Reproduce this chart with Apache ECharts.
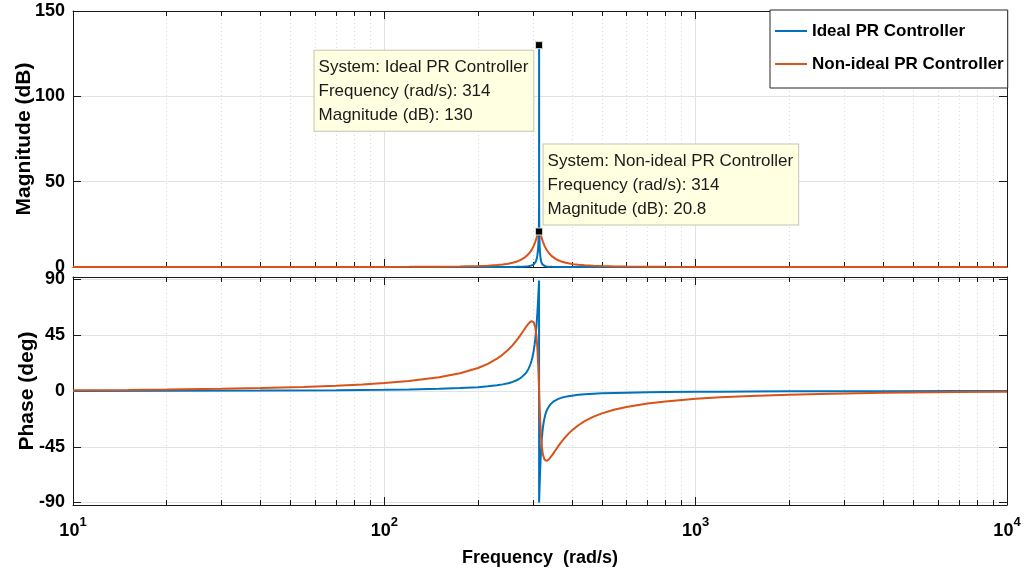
<!DOCTYPE html>
<html><head><meta charset="utf-8">
<script src="https://cdn.jsdelivr.net/npm/echarts@6/dist/echarts.min.js"></script>
<style>html,body{margin:0;padding:0;background:#fff}#c{width:1027px;height:575px}</style>
</head><body><div id="c"></div>
<script>
// ---- data ----
const seriesNames = ['Ideal PR Controller', 'Non-ideal PR Controller'];

const idealMagFreq = [10,20,40,70,100,120,150,175,200,215,230,240,250,258,265,270,275,279,283,287,290,292.5,295,297,299,302,304,305,306.5,308,309,310,311,312,313,313.7,314.05,314.16,314.3,314.6,315.3,316,317.5,319,320,321.5,323,325,327,329.5,332,335,338,341.5,345,350,355,362,370,380,390,405,420,440,470,500,550,600,700,800,1000,1200,1500,2000,2500,4000,7000,10000];
const idealMag = [0,0,0.0003,0.001,0.0014,0.0023,0.0043,0.0073,0.013,0.0186,0.028,0.0377,0.053,0.0714,0.096,0.1205,0.155,0.1946,0.25,0.3306,0.42,0.5188,0.70,0.8111,1.02,1.51,2.041,2.41,3.147,4.24,5.27,6.68,8.662,11.65,16.85,24.8,37.3,130,31.0,21.2,13.08,9.24,5.14,3.188,2.42,1.687,1.23,0.8636,0.64,0.4587,0.35,0.2585,0.20,0.1567,0.124,0.0929,0.073,0.0541,0.041,0.0299,0.023,0.0167,0.013,0.0093,0.006,0.0047,0.003,0.0023,0.0014,0.001,0.0005,0,0,0,0,0,0,0];

const idealPhaseFreq = [10,20,40,70,100,120,150,175,200,215,230,240,250,258,265,270,275,279,283,287,290,292.5,295,297,299,302,304,305,306.5,308,309,310,311,312,313,313.7,314.05,314.16,314.16,314.3,314.6,315.3,316,317.5,319,320,321.5,323,325,327,329.5,332,335,338,341.5,345,350,355,362,370,380,390,405,420,440,470,500,550,600,700,800,1000,1200,1500,2000,2500,4000,7000,10000];
const idealPhase = [0.09,0.19,0.38,0.68,1.03,1.30,1.80,2.36,3.12,3.75,4.59,5.34,6.31,7.32,8.47,9.51,10.8,12.08,13.7,15.71,17.6,19.60,22.0,24.38,27.2,32.8,37.76,40.7,45.89,52.1,56.96,62.4,68.36,74.8,81.7,86.7,89.2,90,-90,-88.4,-85.0,-77.2,-69.8,-56.4,-46.15,-40.8,-34.57,-29.8,-25.13,-21.7,-18.45,-16.1,-13.91,-12.3,-10.79,-9.6,-8.36,-7.4,-6.39,-5.5,-4.75,-4.2,-3.55,-3.1,-2.65,-2.2,-1.89,-1.55,-1.32,-1.02,-0.85,-0.64,-0.51,-0.40,-0.29,-0.23,-0.14,-0.08,-0.057];

const nonIdealFreq = [10,15,20,30,40,55,70,85,100,120,150,175,200,215,230,240,250,258,265,270,275,279,283,287,290,292.5,295,297,299,302,305,308,310,312,313,314.16,315.3,316,318,320,323,327,332,335,338,341.5,345,350,355,362,370,380,390,405,420,440,470,500,550,600,700,800,1000,1200,1500,2000,2500,4000,7000,10000];
const nonIdealMag = [0,0.001,0.002,0.004,0.009,0.017,0.029,0.045,0.066,0.104,0.198,0.331,0.566,0.796,1.146,1.486,1.959,2.477,3.077,3.618,4.283,4.927,5.697,6.625,7.449,8.238,9.142,9.961,10.882,12.497,14.459,16.82,18.544,20.087,20.601,20.828,20.61,20.283,18.853,17.184,14.870,12.394,10.082,8.994,8.072,7.162,6.394,5.490,4.759,3.952,3.254,2.610,2.140,1.642,1.302,0.995,0.709,0.534,0.365,0.266,0.163,0.112,0.064,0.041,0.025,0.014,0.009,0.003,0.001,0.0005];
const nonIdealPhase = [0.58,0.87,1.17,1.76,2.36,3.29,4.26,5.30,6.42,8.08,11.09,14.32,18.59,21.92,26.05,29.37,33.28,36.86,40.36,43.05,45.87,48.18,50.49,52.69,54.18,55.23,56.03,56.39,56.39,55.34,52.13,44.76,35.59,21.17,11.87,0,-11.64,-18.25,-33.39,-43.17,-51.17,-55.45,-56.42,-55.94,-55.04,-53.70,-52.19,-49.91,-47.61,-44.53,-41.28,-37.69,-34.60,-30.75,-27.64,-24.37,-20.73,-18.08,-14.99,-12.86,-10.11,-8.39,-6.32,-5.11,-3.99,-2.93,-2.33,-1.44,-0.82,-0.57];

// data tips
const tipFreq = [314, 314];
const tipMag = [130, 20.8];

// axis ticks
const magTicks = [0, 50, 100, 150];
const phaseTicks = [-90, -45, 0, 45, 90];
const freqRange = [10, 10000];
const magRange = [0, 150];
const phaseRange = [-92, 92];

// ---- chart ----
const zip = (a, b) => a.map((v, i) => [v, b[i]]);
const FONT = 'Liberation Sans, Arial, sans-serif';
const BLUE = '#0072BD', ORANGE = '#D95319';
const FRAME = '#1a1a1a';
const GRIDC = '#e2e2e2';
const MINORC = '#d9d9d9';

const grids = [
  {left: 73, right: 20, top: 11, height: 256},
  {left: 73, right: 20, top: 277, height: 228}
];

function xAxisDef(gridIndex, position, showLabels, showGrid) {
  return {
    type: 'log', logBase: 10, gridIndex, position,
    min: freqRange[0], max: freqRange[1],
    axisLine: {show: true, onZero: false, lineStyle: {color: FRAME, width: 1}},
    axisTick: {show: true, inside: true, length: 8, lineStyle: {color: FRAME}},
    minorTick: {show: true, splitNumber: 9, length: 5, lineStyle: {color: FRAME}},
    splitLine: {show: showGrid, lineStyle: {color: GRIDC, width: 1}},
    minorSplitLine: {show: showGrid, lineStyle: {color: MINORC, width: 1, type: [1, 3]}},
    axisLabel: {
      show: showLabels, margin: 11,
      formatter: v => '{b|10}{s|' + Math.round(Math.log10(v)) + '}',
      rich: {
        b: {fontSize: 18, fontWeight: 'bold', fontFamily: FONT, color: '#000', lineHeight: 30, verticalAlign: 'middle'},
        s: {fontSize: 13, fontWeight: 'bold', fontFamily: FONT, color: '#000', lineHeight: 13, verticalAlign: 'top'}
      }
    },
    name: showLabels ? 'Frequency  (rad/s)' : '',
    nameLocation: 'middle', nameGap: 44, nameMoveOverlap: false,
    nameTextStyle: {fontSize: 18, fontWeight: 'bold', fontFamily: FONT, color: '#000'}
  };
}

function yAxisDef(gridIndex, position, range, ticks, showLabels, name, nameGap) {
  return {
    type: 'value', gridIndex, position,
    min: range[0], max: range[1],
    axisLine: {show: true, onZero: false, lineStyle: {color: FRAME, width: 1}},
    axisTick: {show: true, inside: true, length: 8, customValues: ticks, lineStyle: {color: FRAME}},
    splitLine: {show: showLabels, lineStyle: {color: GRIDC, width: 1}},
    axisLabel: {show: showLabels, customValues: ticks, margin: 8, fontSize: 18, fontWeight: 'bold', fontFamily: FONT, color: '#000'},
    name: showLabels ? name : '',
    nameLocation: 'middle', nameGap: nameGap, nameRotate: 90, nameMoveOverlap: false,
    nameTextStyle: {fontSize: 21, fontWeight: 'bold', fontFamily: FONT, color: '#000'}
  };
}

function tipLabel(i, pos) {
  return {
    show: true,
    formatter: 'System: ' + seriesNames[i] + '\nFrequency (rad/s): ' + tipFreq[i] + '\nMagnitude (dB): ' + tipMag[i],
    position: pos, align: 'left', verticalAlign: 'top',
    fontSize: 17, fontFamily: FONT, color: '#1a1a1a', lineHeight: 24,
    backgroundColor: '#ffffe1', borderColor: '#c4c4b0', borderWidth: 1,
    padding: [5, 5, 3, 4]
  };
}

const lineCommon = {type: 'line', showSymbol: false, symbol: 'none', smooth: false, animation: false, clip: true};
const markCommon = {
  symbol: 'rect', symbolSize: 7, animation: false,
  itemStyle: {color: '#000', borderColor: '#d8d8c0', borderWidth: 1}
};

const option = {
  animation: false,
  backgroundColor: '#fff',
  grid: grids,
  legend: {
    data: seriesNames, orient: 'vertical', left: 770, top: 10,
    icon: 'rect', itemWidth: 32, itemHeight: 2, itemGap: 13,
    padding: [11, 4, 14, 5],
    backgroundColor: '#fff', borderColor: '#262626', borderWidth: 1,
    textStyle: {fontSize: 17, fontWeight: 'bold', fontFamily: FONT, color: '#000', lineHeight: 20},
    selectedMode: false
  },
  xAxis: [
    xAxisDef(0, 'bottom', false, true),
    xAxisDef(0, 'top', false, false),
    xAxisDef(1, 'bottom', true, true),
    xAxisDef(1, 'top', false, false)
  ],
  yAxis: [
    yAxisDef(0, 'left', magRange, magTicks, true, 'Magnitude (dB)', 38),
    yAxisDef(0, 'right', magRange, magTicks, false, '', 0),
    yAxisDef(1, 'left', phaseRange, phaseTicks, true, 'Phase (deg)', 35),
    yAxisDef(1, 'right', phaseRange, phaseTicks, false, '', 0)
  ],
  series: [
    Object.assign({}, lineCommon, {
      name: seriesNames[0], xAxisIndex: 0, yAxisIndex: 0, z: 2,
      data: zip(idealMagFreq, idealMag),
      lineStyle: {color: BLUE, width: 2}, itemStyle: {color: BLUE},
      markPoint: Object.assign({}, markCommon, {
        data: [{coord: [tipFreq[0], tipMag[0]], label: tipLabel(0, [-220.5, 9.5])}]
      })
    }),
    Object.assign({}, lineCommon, {
      name: seriesNames[1], xAxisIndex: 0, yAxisIndex: 0, z: 3,
      data: zip(nonIdealFreq, nonIdealMag),
      lineStyle: {color: ORANGE, width: 2}, itemStyle: {color: ORANGE},
      markPoint: Object.assign({}, markCommon, {
        data: [{coord: [tipFreq[1], tipMag[1]], label: tipLabel(1, [8.5, -83])}]
      })
    }),
    Object.assign({}, lineCommon, {
      name: seriesNames[0], xAxisIndex: 2, yAxisIndex: 2, z: 2,
      data: zip(idealPhaseFreq, idealPhase),
      lineStyle: {color: BLUE, width: 2}, itemStyle: {color: BLUE}
    }),
    Object.assign({}, lineCommon, {
      name: seriesNames[1], xAxisIndex: 2, yAxisIndex: 2, z: 3,
      data: zip(nonIdealFreq, nonIdealPhase),
      lineStyle: {color: ORANGE, width: 2}, itemStyle: {color: ORANGE}
    })
  ]
};

const chart = echarts.init(document.getElementById('c'), null, {renderer: 'canvas'});
chart.setOption(option);
</script>
</body></html>
